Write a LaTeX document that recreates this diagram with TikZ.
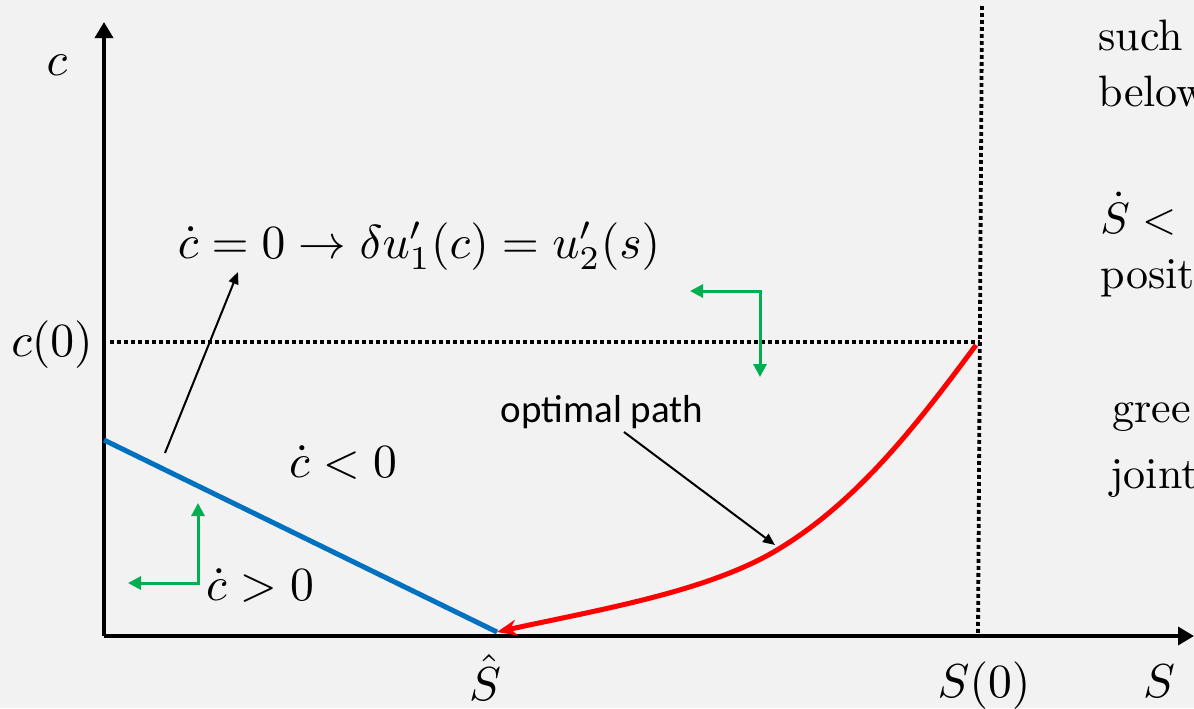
\documentclass[tikz,border=0pt]{standalone}
\usepackage{fontspec}
\usetikzlibrary{arrows.meta}
\newfontfamily\calibrifont{Carlito}
\definecolor{slidegray}{HTML}{F2F2F2}
\definecolor{nullblue}{HTML}{0070C0}
\definecolor{pathred}{HTML}{FF0000}
\definecolor{flowgreen}{HTML}{00B050}
% slide text is 10pt type blown up
\newcommand{\slidemath}[1]{\scalebox{2.38}{#1}}
\newcommand{\slidetext}[1]{\scalebox{2.2}{#1}}

\begin{document}
\begin{tikzpicture}[
    x=0.5pt, y=-0.5pt,
    >=Triangle,
    line join=miter,
    axis/.style={line width=1.75pt, -{Triangle[length=8pt,width=9pt]}},
    guide/.style={line width=1.9pt, dash pattern=on 1.9pt off 1.6pt},
    flow/.style={flowgreen, line width=1.5pt, {Triangle[length=6.5pt,width=6.5pt]}-{Triangle[length=6.5pt,width=6.5pt]}},
    pointer/.style={line width=1pt, -{Triangle[length=6pt,width=5pt]}},
    mathlabel/.style={inner sep=0pt, anchor=base},
    sidetext/.style={inner sep=0pt, anchor=base west}
]

% Slide background
\fill[slidegray] (0,0) rectangle (1194,708);
\useasboundingbox (0,0) rectangle (1194,708);

% Key points
\coordinate (O) at (104,636);
\coordinate (ytop) at (104,22);
\coordinate (xend) at (1194,636);
\coordinate (c0left) at (110,342);
\coordinate (c0right) at (980,342);
\coordinate (s0top) at (982,6);
\coordinate (s0foot) at (978,634);
\coordinate (nulltop) at (104,440);
\coordinate (shat) at (497,632);
\coordinate (pathmid) at (777,550);
\coordinate (pathstart) at (976,345);

% Guides for the starting point
\draw[guide] (c0left) -- (c0right);
\draw[guide] (s0top) -- (s0foot);

% Axes
\draw[axis] (O) -- (ytop);
\draw[axis] (O) -- (xend);

% Stationary line and optimal path
\draw[nullblue, line width=2.5pt] (nulltop) -- (shat);
\draw[pathred, line width=2.5pt, {Stealth[length=10pt,width=8pt]}-]
    (shat) .. controls (597,610) and (707,592) .. (pathmid)
    .. controls (857,502) and (916,426) .. (pathstart);

% Direction arrows
\coordinate (flowAup) at (198,503);
\coordinate (flowAleft) at (128,583);
\draw[flow] (flowAup) |- (flowAleft);
\coordinate (flowBleft) at (690,291);
\coordinate (flowBdown) at (760,377);
\draw[flow] (flowBleft) -| (flowBdown);

% Labels
\node[mathlabel] (clab) at (57,75) {\slidemath{$c$}};
\node[mathlabel] (c0lab) at (52,356) {\slidemath{$c(0)$}};
\node[mathlabel] (shatlab) at (485,700) {\slidemath{$\hat S$}};
\node[mathlabel] (s0lab) at (984,697) {\slidemath{$S(0)$}};
\node[mathlabel] (slab) at (1159,697) {\slidemath{$S$}};
\node[mathlabel] (nulllab) at (419,258) {\slidemath{$\dot c = 0 \rightarrow \delta u_1'(c) = u_2'(s)$}};
\node[mathlabel] (cneg) at (343,477) {\slidemath{$\dot c < 0$}};
\node[mathlabel] (cpos) at (260,600) {\slidemath{$\dot c > 0$}};
\node[font=\calibrifont\fontsize{19.5}{23}\selectfont, inner sep=0pt, anchor=base] (optlab) at (602,422) {optimal path};

% Pointers
\coordinate (nullfoot) at (165,453);
\coordinate (nulltip) at (238,272);
\draw[pointer] (nullfoot) -- (nulltip);
\coordinate (optfoot) at (624,432);
\coordinate (opttip) at (775,545);
\draw[pointer] (optfoot) -- (opttip);

% Side text
\node[sidetext] (such) at (1098,50) {\slidetext{such}};
\node[sidetext] (below) at (1098,106) {\slidetext{below}};
\node[sidetext] (sdot) at (1100,233) {\slidetext{$\dot S <$}};
\node[sidetext] (posit) at (1100,288) {\slidetext{posit}};
\node[sidetext] (gree) at (1112,422) {\slidetext{gree}};
\node[sidetext] (joint) at (1110,488) {\slidetext{joint}};

\end{tikzpicture}
\end{document}
